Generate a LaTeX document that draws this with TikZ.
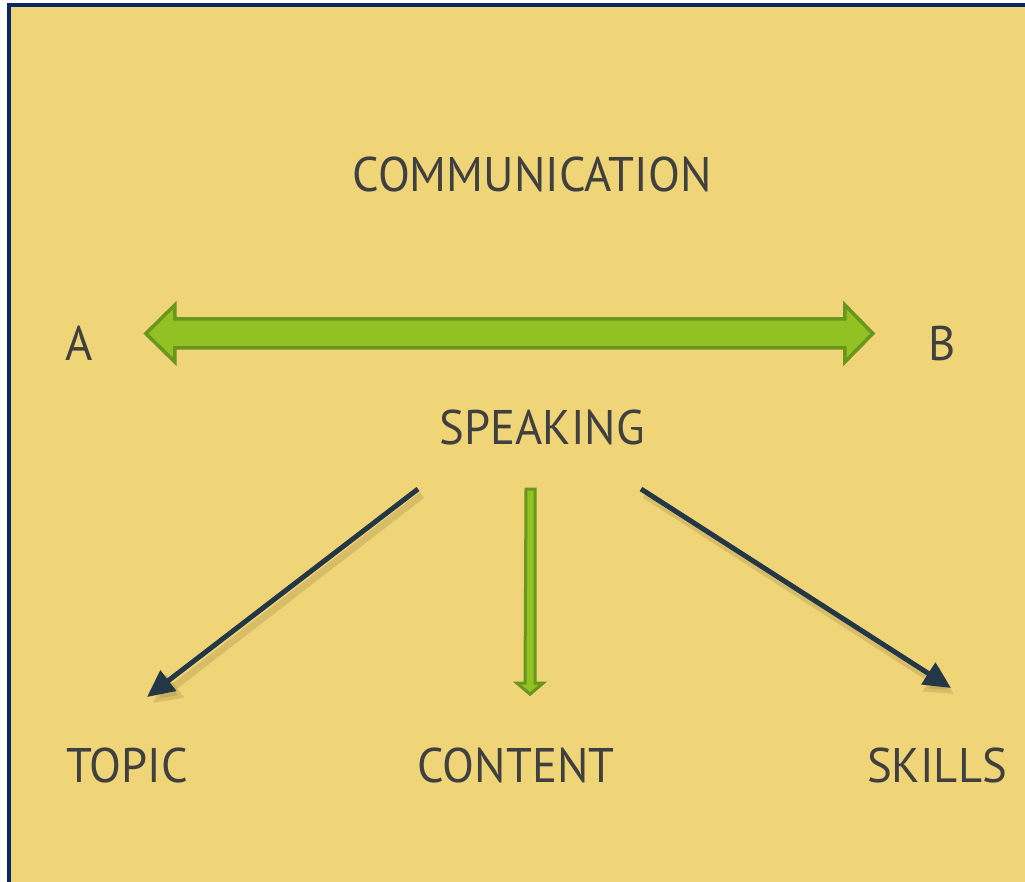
\documentclass[tikz,border=0pt]{standalone}
\usepackage{fontspec}
\setmainfont[FakeStretch=0.96]{PT Sans}
\usetikzlibrary{arrows.meta,calc}
\definecolor{bgyellow}{HTML}{EFD478}
\definecolor{frame}{HTML}{0A2864}
\definecolor{gfill}{HTML}{92C123}
\definecolor{gline}{HTML}{6A961E}
\definecolor{darrow}{HTML}{243746}
\definecolor{txt}{HTML}{404040}
\definecolor{shadowc}{HTML}{A08A40}
\tikzset{
  lbl/.style={inner sep=0pt, text height=34pt, text depth=0pt, text=txt,
    font=\fontsize{48.6}{58}\selectfont},
  greenarrow/.style={fill=gfill, draw=gline, line width=3.5pt, line join=miter},
  darkarrow/.style={draw=darrow, line width=5pt, -{Triangle[length=27pt,width=25pt]}},
  darkshadow/.style={draw=shadowc, opacity=0.3, line width=7pt, -{Triangle[length=28pt,width=28pt]}}
}
\begin{document}
\begin{tikzpicture}[x=1pt,y=-1pt]
\useasboundingbox (0,0) rectangle (1025,882);
\fill[white] (0,0) rectangle (1025,882);
\fill[frame] (7,3.5) rectangle (1025,882);
\fill[bgyellow] (11,7.5) rectangle (1025,882);

\node[lbl] (comm) at (532,175) {COMMUNICATION};
\node[lbl] (A) at (79,344) {A};
\node[lbl] (B) at (942,344) {B};
\node[lbl] (speak) at (542,427) {SPEAKING};
\node[lbl] (topic) at (127,765) {TOPIC};
\node[lbl] (content) at (516,765) {CONTENT};
\node[lbl] (skills) at (937,765) {SKILLS};

% double arrow between A and B
\draw[greenarrow] ($(A.east)+(53,-10.5)$) coordinate (ltip)
  -- ++(29,-28.5) -- ++(0,14) -- ++(670,0) -- ++(0,-14) -- ++(28,28.5)
  -- ++(-28,28.5) -- ++(0,-14) -- ++(-670,0) -- ++(0,14) -- cycle;

% vertical green arrow from SPEAKING to CONTENT
\coordinate (vtop) at ($(speak.south)+(-11.5,45)$);
\draw[greenarrow, line width=3pt] ($(vtop)+(-4.5,0)$) -- ++(9,0) -- ++(0,194) -- ++(8,0)
  -- ++(-13,11) -- ++(-13,-11) -- ++(8,0) -- cycle;

% dark arrows with soft shadow
\coordinate (ls) at (418,489);
\coordinate (le) at (147,697);
\coordinate (rs) at (641,489);
\coordinate (re) at (951,688);
\draw[darkshadow] ($(ls)+(4,6)$) -- ($(le)+(6,6)$);
\draw[darkshadow] ($(rs)+(4,6)$) -- ($(re)+(3,6)$);
\draw[darkarrow] (ls) -- (le);
\draw[darkarrow] (rs) -- (re);
\end{tikzpicture}
\end{document}
